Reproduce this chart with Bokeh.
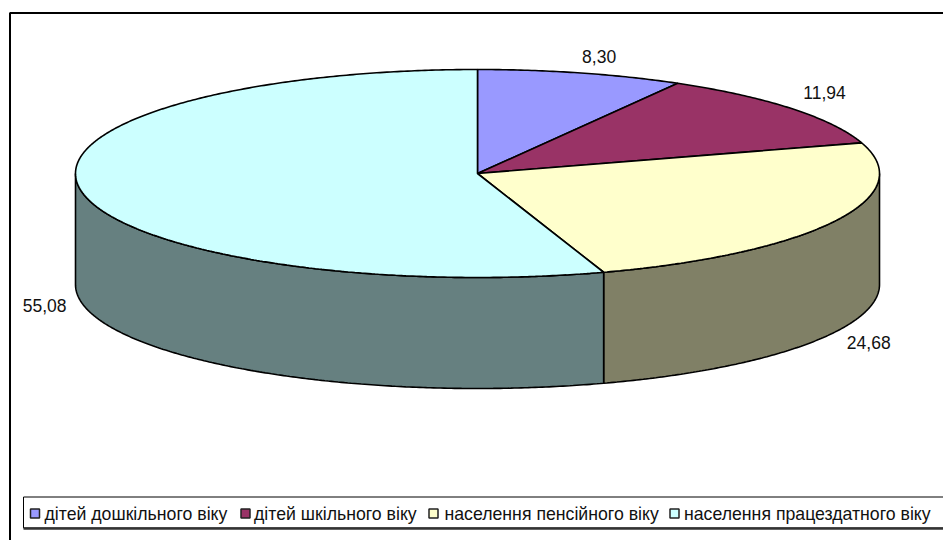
import math
from bokeh.plotting import figure
from bokeh.models import Range1d
from bokeh.core.properties import value
from bokeh.embed import file_html
from bokeh.resources import INLINE

categories = ["дітей дошкільного віку", "дітей шкільного віку", "населення пенсійного віку", "населення працездатного віку"]
shares = [8.30, 11.94, 24.68, 55.08]
share_labels = ["8,30", "11,94", "24,68", "55,08"]
top_colors = ["#9999FF", "#993366", "#FFFFCC", "#CCFFFF"]
side_colors = ["#4D4D80", "#4D1A33", "#808066", "#668080"]

# layout
CX, CY, RX, RY, DEPTH = 477, 173, 402, 104, 111
LABEL_OFFSETS = [(18, -17), (33, -16), (34, 10), (-36, 4)]
LEGEND_BOX = (23, 950, 496.5, 527.5)
SWATCH_X = [30, 240.5, 428.5, 669.5]
TEXT_X = [44, 253.5, 444, 683.5]
LEGEND_Y = 513
FONT = value("Liberation Sans")

W, H = 943, 540
p = figure(width=W, height=H, output_backend="svg", toolbar_location=None,
           x_range=Range1d(0, W), y_range=Range1d(H, 0),
           min_border=0, border_fill_color="white", background_fill_color="white",
           outline_line_color=None)
p.axis.visible = False
p.grid.visible = False


def pt(deg, dy=0.0):
    a = math.radians(deg)
    return CX + RX * math.sin(a), CY - RY * math.cos(a) + dy


def arc(a0, a1, dy=0.0):
    n = max(2, int(abs(a1 - a0)) * 2)
    return [pt(a0 + (a1 - a0) * i / n, dy) for i in range(n + 1)]


total = sum(shares)
angles = [0.0]
for s in shares:
    angles.append(angles[-1] + 360 * s / total)

# side walls: only the front half of the rim (90..270 degrees) is visible
for i in range(len(shares)):
    a0, a1 = max(angles[i], 90), min(angles[i + 1], 270)
    if a1 <= a0:
        continue
    outer = arc(a0, a1) + arc(a1, a0, DEPTH)
    p.patch([q[0] for q in outer], [q[1] for q in outer], fill_color=side_colors[i],
            line_color="black", line_width=1.6)

# top slices
for i in range(len(shares)):
    outer = [(CX, CY)] + arc(angles[i], angles[i + 1])
    p.patch([q[0] for q in outer], [q[1] for q in outer], fill_color=top_colors[i],
            line_color="black", line_width=1.6)

# data labels
for i, lab in enumerate(share_labels):
    mid = (angles[i] + angles[i + 1]) / 2
    x, y = pt(mid, DEPTH if 90 < mid < 270 else 0)
    p.text([x + LABEL_OFFSETS[i][0]], [y + LABEL_OFFSETS[i][1]], text=[lab], text_font=FONT,
           text_font_size="17.5px", text_color="#111111", text_align="center", text_baseline="middle")

# chart frame: the left and top edges are visible
p.line([9.5, 9.5, 950], [545, 12.5, 12.5], line_color="black", line_width=2)

# legend
x0, x1, y0, y1 = LEGEND_BOX
p.quad(left=[x0], right=[x1], bottom=[y1], top=[y0], fill_color="white", line_color="black", line_width=1)
p.line([x0, x1], [y1 + 0.5, y1 + 0.5], line_color="#333333", line_width=2.5)
for i, cat in enumerate(categories):
    p.quad(left=[SWATCH_X[i]], right=[SWATCH_X[i] + 9], top=[LEGEND_Y - 4.5], bottom=[LEGEND_Y + 4.5],
           fill_color=top_colors[i], line_color="#222222", line_width=1.5)
    p.text([TEXT_X[i]], [LEGEND_Y], text=[cat], text_font=FONT, text_font_size="17.7px",
           text_color="#111111", text_align="left", text_baseline="middle")

open("out.html", "w").write(file_html(p, INLINE))
